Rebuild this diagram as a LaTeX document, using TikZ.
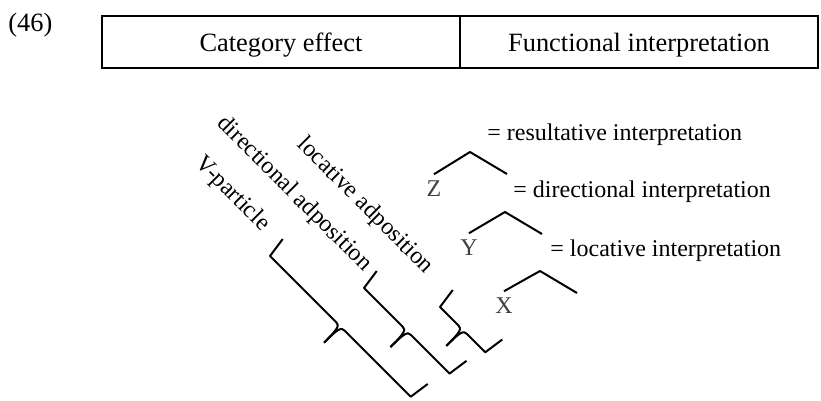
\documentclass[tikz,border=0pt]{standalone}
\usepackage{fontspec}
\setmainfont{Liberation Serif}
\usetikzlibrary{positioning}

\tikzset{
    cell/.style={draw, line width=0.8pt, outer sep=0pt, inner sep=0pt,
        minimum width=179pt, minimum height=26pt,
        text height=12pt, text depth=2pt,
        font=\fontsize{13.2}{16}\selectfont},
    branch/.style={line width=1pt, line join=round},
    catlabel/.style={rotate=-45, inner sep=0pt, font=\fontsize{12}{14}\selectfont},
    interp/.style={anchor=base west, inner sep=0pt, font=\fontsize{12}{14}\selectfont},
    leaf/.style={anchor=base, text=black!75, font=\fontsize{12}{14}\selectfont},
    pics/catbrace/.style={code={
        \draw[branch] (-3,-21) -- (0,0) -- ({#1/2-6},0)
            .. controls ({#1/2-1},0) and ({#1/2},3) .. ({#1/2},23);
        \draw[branch] ({#1+3},-21) -- ({#1},0) -- ({#1/2+6},0)
            .. controls ({#1/2+1},0) and ({#1/2},3) .. ({#1/2},23);
    }}
}

\begin{document}
\begin{tikzpicture}[x=0.5pt, y=-0.5pt]
    \useasboundingbox (0,0) rectangle (821,401);

    % header table
    \node[anchor=base west, inner sep=0pt, font=\fontsize{13.2}{16}\selectfont] (exnum) at (8,32) {(46)};
    \node[cell] (catcell) at (281,42) {Category effect};
    \node[cell, right=0pt of catcell] (funccell) {Functional interpretation};

    % category labels
    \node[catlabel] (vpart) at (232,194) {V-particle};
    \node[catlabel] (dirad) at (294,194) {directional adposition};
    \node[catlabel] (locad) at (365,206) {locative adposition};

    % brackets
    \pic[rotate=-45] at (270,256) {catbrace=199};
    \pic[rotate=-45] at (364,288) {catbrace=121};
    \pic[rotate=-45] at (440,307) {catbrace=64};

    % tree
    \node[leaf] (Z) at (434,197) {Z};
    \node[leaf] (Y) at (469,256) {Y};
    \node[leaf] (X) at (504,314) {X};
    \coordinate (zTop) at (470,152);
    \coordinate (zRight) at (507,174);
    \coordinate (yTop) at (505,212);
    \coordinate (yRight) at (542,234);
    \coordinate (xTop) at (540,271);
    \coordinate (xRight) at (577,293);
    \draw[branch] (Z.north) -- (zTop) -- (zRight);
    \draw[branch] (Y.north) -- (yTop) -- (yRight);
    \draw[branch] (X.north) -- (xTop) -- (xRight);

    \node[interp] (resint) at (487,141) {= resultative interpretation};
    \node[interp] (dirint) at (513,198) {= directional interpretation};
    \node[interp] (locint) at (550,257) {= locative interpretation};
\end{tikzpicture}
\end{document}
